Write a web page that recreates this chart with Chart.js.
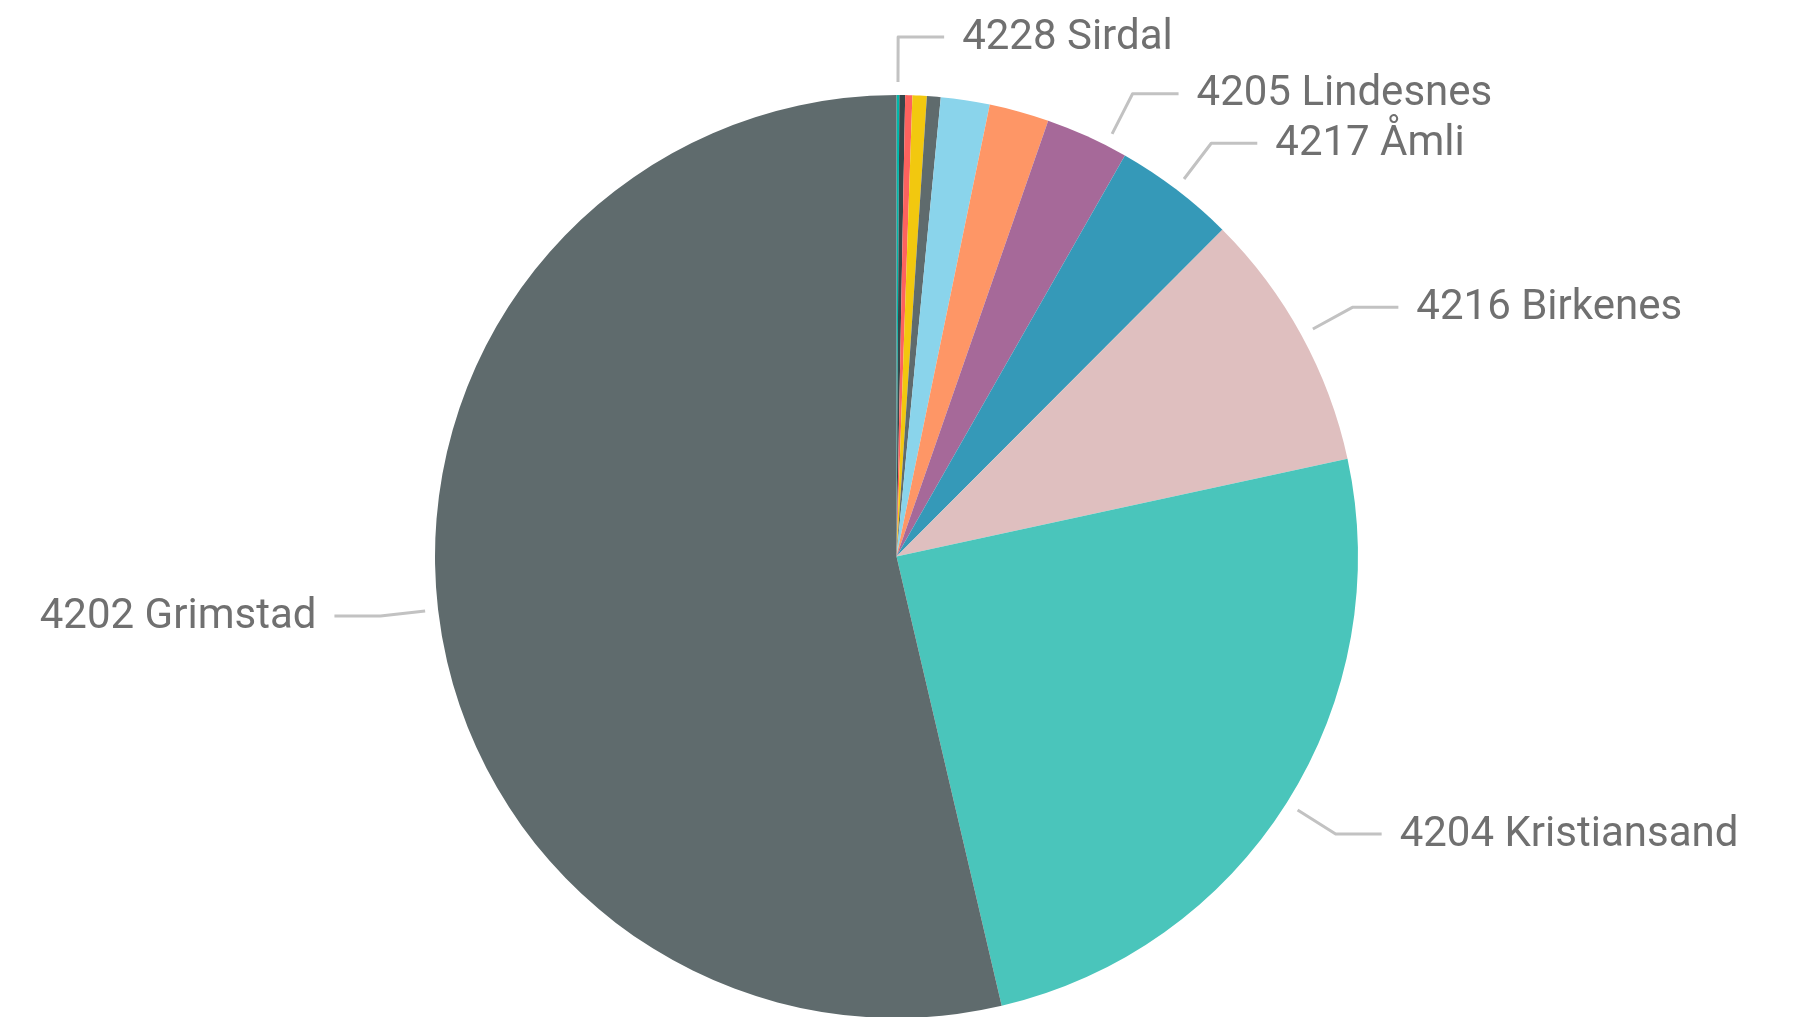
<!DOCTYPE html>
<html>
<head>
<meta charset="utf-8">
<script src="https://cdn.jsdelivr.net/npm/chart.js@4"></script>
<style>
  html, body { margin: 0; padding: 0; background: #ffffff; }
  #wrap { width: 1797px; height: 1017px; position: relative; }
</style>
</head>
<body>
<div id="wrap"><canvas id="c" width="1797" height="1017"></canvas></div>
<script>
// Categories, clockwise from 12 o'clock
const categories = [
  "4228 Sirdal",
  "4227 Kvinesdal",
  "4226 Hægebostad",
  "4206 Farsund",
  "4207 Flekkefjord",
  "4225 Lyngdal",
  "4223 Vennesla",
  "4205 Lindesnes",
  "4217 Åmli",
  "4216 Birkenes",
  "4204 Kristiansand",
  "4202 Grimstad"
];
// Share of total (%)
const shareValues = [0.10, 0.20, 0.25, 0.50, 0.48, 1.71, 2.09, 2.91, 4.24, 9.12, 24.74, 53.66];
// Slices that carry a visible data label
const labelledCategories = [
  "4228 Sirdal",
  "4205 Lindesnes",
  "4217 Åmli",
  "4216 Birkenes",
  "4204 Kristiansand",
  "4202 Grimstad"
];
const sliceColors = [
  "#01B8AA", "#374649", "#FD625E", "#F2C80F", "#5F6B6D", "#8AD4EB",
  "#FE9666", "#A66999", "#3599B8", "#DFBFBF", "#4AC5BB", "#5F6B6D"
];

const leaderLabels = {
  id: 'leaderLabels',
  afterDatasetsDraw(chart, args, opts) {
    const ctx = chart.ctx;
    const meta = chart.getDatasetMeta(0);
    ctx.save();
    meta.data.forEach((arc, i) => {
      const name = chart.data.labels[i];
      if (!opts.show.includes(name)) return;
      const p = arc.getProps(['x', 'y', 'startAngle', 'endAngle', 'outerRadius'], true);
      let mid = (p.startAngle + p.endAngle) / 2;
      if (opts.nudge && opts.nudge[name]) mid += opts.nudge[name] * Math.PI / 180;
      const r0 = p.outerRadius + opts.startGap;
      const r1 = p.outerRadius + opts.elbowGap;
      const sx = p.x + Math.cos(mid) * r0, sy = p.y + Math.sin(mid) * r0;
      const ex = p.x + Math.cos(mid) * r1, ey = p.y + Math.sin(mid) * r1;
      const dir = Math.cos(mid) >= 0 ? 1 : -1;
      const hx = ex + dir * opts.hLen;
      ctx.beginPath();
      ctx.moveTo(sx, sy);
      ctx.lineTo(ex, ey);
      ctx.lineTo(hx, ey);
      ctx.strokeStyle = opts.lineColor;
      ctx.lineWidth = opts.lineWidth;
      ctx.lineJoin = 'round';
      ctx.stroke();
      ctx.font = opts.font;
      ctx.fillStyle = opts.textColor;
      ctx.textBaseline = 'middle';
      ctx.textAlign = dir > 0 ? 'left' : 'right';
      ctx.fillText(name, hx + dir * opts.textGap, ey + opts.textDy);
    });
    ctx.restore();
  }
};

new Chart(document.getElementById('c'), {
  type: 'pie',
  data: {
    labels: categories,
    datasets: [{
      data: shareValues,
      backgroundColor: sliceColors,
      borderWidth: 0,
      radius: 461.5
    }]
  },
  options: {
    responsive: false,
    animation: false,
    layout: { padding: { top: 96, bottom: 0, left: 0, right: 4 } },
    plugins: {
      legend: { display: false },
      tooltip: { enabled: true },
      leaderLabels: {
        show: labelledCategories,
        nudge: { "4205 Lindesnes": 2.6 },
        startGap: 13,
        elbowGap: 58,
        hLen: 46,
        textGap: 18,
        textDy: 1,
        lineWidth: 3,
        lineColor: '#c2c2c2',
        textColor: '#707070',
        font: '42px Roboto'
      }
    }
  },
  plugins: [leaderLabels]
});
</script>
</body>
</html>
